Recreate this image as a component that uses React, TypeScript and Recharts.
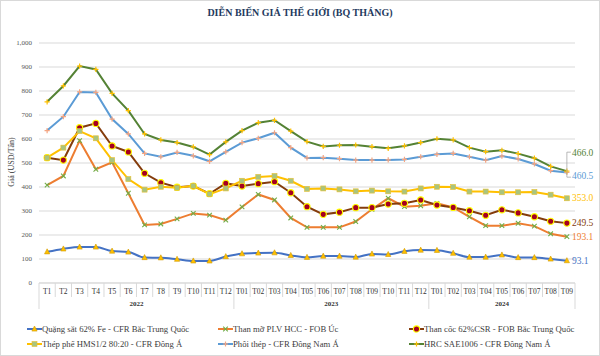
import React from 'react';
import { ComposedChart, Line, XAxis, YAxis, CartesianGrid, LabelList } from 'recharts';

// ---------- DATA ----------
const months = [
  'T1', 'T2', 'T3', 'T4', 'T5', 'T6', 'T7', 'T8', 'T9', 'T10', 'T11', 'T12',
  'T01', 'T02', 'T03', 'T04', 'T05', 'T06', 'T07', 'T08', 'T09', 'T10', 'T11', 'T12',
  'T01', 'T02', 'T03', 'T04', 'T05', 'T06', 'T07', 'T08', 'T09',
];
const years = ['2022', '2023', '2024'];
const yearSizes = [12, 12, 9];
const yTicks = [0, 100, 200, 300, 400, 500, 600, 700, 800, 900, 1000];

const quangSat = [
  130, 142, 150, 150, 133, 129, 106, 105, 99, 92, 92, 110,
  122, 125, 126, 115, 107, 112, 112, 108, 121, 119, 132, 137,
  136, 124, 108, 108, 117, 106, 106, 100, 93.1,
];
const thanMo = [
  408, 446, 593, 474, 503, 374, 242, 246, 267, 290, 283, 262,
  317, 369, 346, 271, 232, 232, 232, 256, 307, 353, 318, 322,
  332, 315, 276, 239, 239, 249, 237, 205, 193.1,
];
const thanCoc = [
  522, 512, 647, 665, 571, 546, 457, 418, 399, 404, 372, 415,
  404, 414, 422, 376, 318, 286, 295, 314, 314, 329, 332, 346,
  325, 315, 301, 282, 305, 292, 276, 257, 249.5,
];
const thepPhe = [
  522, 564, 633, 603, 512, 433, 389, 401, 397, 405, 370, 394,
  426, 442, 446, 426, 392, 394, 390, 382, 385, 382, 381, 394,
  401, 400, 381, 381, 378, 378, 379, 368, 353.0,
];
const phoiThep = [
  635, 693, 796, 794, 683, 621, 540, 526, 544, 530, 507, 546,
  585, 603, 626, 564, 521, 522, 518, 512, 512, 513, 515, 526,
  536, 540, 526, 512, 529, 517, 496, 468, 460.5,
];
const hrc = [
  755, 821, 904, 890, 790, 718, 621, 596, 585, 567, 535, 588,
  635, 668, 678, 633, 589, 569, 574, 575, 568, 561, 571, 585,
  601, 596, 564, 547, 553, 539, 520, 486, 466.0,
];

type MarkerType = 'triangle' | 'x' | 'circle' | 'square' | 'plus';
interface Series {
  key: string;
  name: string;
  values: number[];
  color: string;
  marker: MarkerType;
  mFill: string;
  mStroke: string;
  smooth: boolean;
  labelDy: number;
}

const series: Series[] = [
  { key: 'quangSat', name: 'Quặng sắt 62% Fe - CFR Bắc Trung Quốc', values: quangSat, color: '#4472C4', marker: 'triangle', mFill: '#FFC000', mStroke: '#D29A00', smooth: true, labelDy: 0 },
  { key: 'thanMo', name: 'Than mỡ PLV HCC - FOB Úc', values: thanMo, color: '#ED7D31', marker: 'x', mFill: 'none', mStroke: '#70AD47', smooth: false, labelDy: 0 },
  { key: 'thanCoc', name: 'Than cốc 62%CSR - FOB Bắc Trung Quốc', values: thanCoc, color: '#843C0C', marker: 'circle', mFill: '#A50021', mStroke: '#FFFF00', smooth: false, labelDy: 0 },
  { key: 'thepPhe', name: 'Thép phế HMS1/2 80:20  - CFR Đông Á', values: thepPhe, color: '#FFC000', marker: 'square', mFill: '#A9C47F', mStroke: '#E8C030', smooth: false, labelDy: 0 },
  { key: 'phoiThep', name: 'Phôi thép - CFR Đông Nam Á', values: phoiThep, color: '#5B9BD5', marker: 'plus', mFill: 'none', mStroke: '#F4A582', smooth: false, labelDy: 4 },
  { key: 'hrc', name: 'HRC SAE1006 - CFR Đông Nam Á', values: hrc, color: '#548235', marker: 'plus', mFill: 'none', mStroke: '#FFC000', smooth: false, labelDy: -18 },
];

const yearOfIndex = (i: number) => {
  let acc = 0;
  for (let g = 0; g < yearSizes.length; g++) {
    acc += yearSizes[g];
    if (i < acc) return g;
  }
  return yearSizes.length - 1;
};

const data = months.map((m, i) => {
  const row: any = { key: `${years[yearOfIndex(i)]}-${m}-${i}`, month: m };
  series.forEach((s) => {
    row[s.key] = s.values[i];
  });
  return row;
});

const FONT = '"Liberation Serif", "Times New Roman", serif';
const GRID = '#D9D9D9';

// ---------- MARKERS ----------
function Marker({ type, cx, cy, fill, stroke }: { type: MarkerType; cx: number; cy: number; fill: string; stroke: string }) {
  if (cx == null || cy == null || isNaN(cx) || isNaN(cy)) return null;
  const s = 2.6;
  switch (type) {
    case 'triangle':
      return <polygon points={`${cx},${cy - s - 0.4} ${cx + s},${cy + s * 0.8} ${cx - s},${cy + s * 0.8}`} fill={fill} stroke={stroke} strokeWidth={0.6} />;
    case 'x':
      return <path d={`M${cx - 2.3},${cy - 2.3}L${cx + 2.3},${cy + 2.3}M${cx - 2.3},${cy + 2.3}L${cx + 2.3},${cy - 2.3}`} stroke={stroke} strokeWidth={1.1} fill="none" />;
    case 'circle':
      return <circle cx={cx} cy={cy} r={3.1} fill={fill} stroke={stroke} strokeWidth={1.1} />;
    case 'square':
      return <rect x={cx - 2.5} y={cy - 2.5} width={5} height={5} fill={fill} stroke={stroke} strokeWidth={0.6} />;
    case 'plus':
    default:
      return <path d={`M${cx - 2.6},${cy}H${cx + 2.6}M${cx},${cy - 2.6}V${cy + 2.6}`} stroke={stroke} strokeWidth={1.2} fill="none" />;
  }
}

// ---------- X AXIS TICK ----------
const groupStarts = yearSizes.map((_, g) => yearSizes.slice(0, g).reduce((a, b) => a + b, 0));

function MonthTick(props: any) {
  const { x, y, payload, index } = props;
  const half = payload && typeof payload.offset === 'number' && payload.offset > 0 ? payload.offset : 536 / 33 / 2;
  const i = typeof index === 'number' ? index : 0;
  const isGroupStart = groupStarts.includes(i);
  const g = groupStarts.indexOf(i);
  const isLast = i === months.length - 1;
  return (
    <g>
      <line x1={x - half} x2={x - half} y1={y} y2={isGroupStart ? y + 26 : y + 14} stroke={GRID} strokeWidth={1} />
      {isLast && <line x1={x + half} x2={x + half} y1={y} y2={y + 26} stroke={GRID} strokeWidth={1} />}
      <text x={x} y={y + 8} textAnchor="middle" dominantBaseline="central" fontSize={7.5} fill="#333" fontFamily={FONT}>
        {months[i]}
      </text>
      {isGroupStart && (
        <text x={x + (yearSizes[g] - 1) * half} y={y + 20.5} textAnchor="middle" dominantBaseline="central" fontSize={7} fontWeight="bold" fill="#333" fontFamily={FONT}>
          {years[g]}
        </text>
      )}
    </g>
  );
}

// ---------- END LABELS ----------
function makeEndLabel(s: Series) {
  return (props: any) => {
    const { x, y, value, index } = props;
    if (index !== s.values.length - 1 || x == null || y == null) return null;
    return (
      <g>
        {s.key === 'hrc' && (
          <path d={`M${x + 4},${y - 19}H${x}V${y + 6}H${x + 4}`} stroke="#A6A6A6" strokeWidth={0.8} fill="none" />
        )}
        <text x={x + 5} y={y + s.labelDy} dominantBaseline="central" fontSize={9.5} fill={s.color} fontFamily={FONT}>
          {Number(value).toFixed(1)}
        </text>
      </g>
    );
  };
}

// ---------- LEGEND ----------
function LegendIcon({ s }: { s: Series }) {
  return (
    <svg width={15} height={8} style={{ display: 'block', flex: 'none' }}>
      <line x1={0} x2={15} y1={4} y2={4} stroke={s.color} strokeWidth={2} />
      <Marker type={s.marker} cx={7.5} cy={4} fill={s.mFill} stroke={s.mStroke} />
    </svg>
  );
}

const legendCols = [27, 218, 409];
const legendRows = [329, 344];

export default function App() {
  return (
    <div style={{ position: 'absolute', left: 0, top: 0, width: 600, height: 356, background: '#fff', fontFamily: FONT }}>
      <ComposedChart width={600} height={356} data={data} margin={{ top: 43, right: 25, bottom: 43, left: 0 }}>
        <CartesianGrid vertical={false} stroke={GRID} strokeWidth={1} />
        <XAxis
          dataKey="key"
          type="category"
          scale="band"
          interval={0}
          tickLine={false}
          axisLine={{ stroke: GRID }}
          tickSize={0}
          tickMargin={0}
          height={30}
          tick={<MonthTick />}
        />
        <YAxis
          domain={[0, 1000]}
          ticks={yTicks}
          width={39}
          tickLine={false}
          axisLine={false}
          tickSize={0}
          tickMargin={7}
          tickFormatter={(v: number) => v.toLocaleString('en-US')}
          tick={{ fontSize: 7, fill: '#595959', fontFamily: FONT }}
        />
        {series.map((s) => (
          <Line
            key={s.key}
            dataKey={s.key}
            name={s.name}
            type={s.smooth ? 'monotone' : 'linear'}
            stroke={s.color}
            strokeWidth={2}
            isAnimationActive={false}
            dot={(p: any) => <Marker key={`${s.key}-${p.index}`} type={s.marker} cx={p.cx} cy={p.cy} fill={s.mFill} stroke={s.mStroke} />}
            activeDot={false}
          >
            <LabelList dataKey={s.key} content={makeEndLabel(s)} />
          </Line>
        ))}
      </ComposedChart>

      {/* Title */}
      <div style={{ position: 'absolute', left: 0, top: 6, width: 600, textAlign: 'center', fontSize: 10, lineHeight: '14px', fontWeight: 'bold', color: '#243A5E' }}>
        DIỄN BIẾN GIÁ THẾ GIỚI (BQ THÁNG)
      </div>

      {/* Y axis title */}
      <div style={{ position: 'absolute', left: 12, top: 162, width: 0, height: 0 }}>
        <div style={{ position: 'absolute', transform: 'translate(-50%, -50%) rotate(-90deg)', whiteSpace: 'nowrap', fontSize: 8, color: '#404040', lineHeight: '10px' }}>
          Giá (USD/Tấn)
        </div>
      </div>

      {/* Legend */}
      {series.map((s, i) => (
        <div
          key={s.key}
          style={{
            position: 'absolute',
            left: legendCols[i % 3],
            top: legendRows[Math.floor(i / 3)] - 7,
            height: 14,
            display: 'flex',
            alignItems: 'center',
            whiteSpace: 'nowrap',
            fontSize: 8.7,
            color: '#404040',
          }}
        >
          <LegendIcon s={s} />
          <span style={{ marginLeft: 0 }}>{s.name}</span>
        </div>
      ))}

      {/* Frame */}
      <div style={{ position: 'absolute', left: 0, top: 0, width: 600, height: 356, boxSizing: 'border-box', border: '1px solid #D9D9D9', pointerEvents: 'none' }} />
    </div>
  );
}
